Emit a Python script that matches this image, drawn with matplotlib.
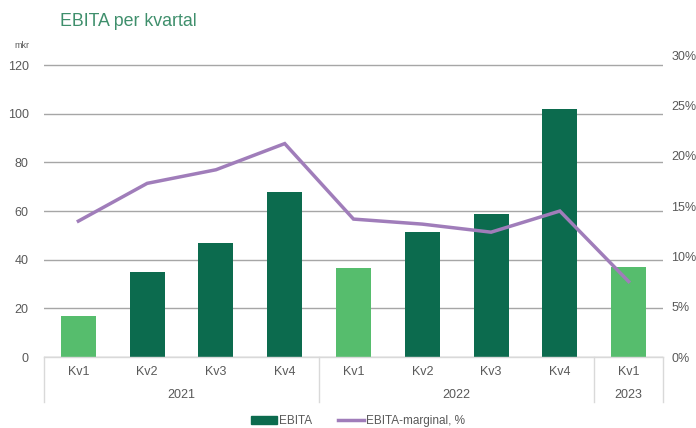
import matplotlib.pyplot as plt
from matplotlib.lines import Line2D
from matplotlib.patches import Patch

plt.rcParams['font.family'] = ['Liberation Sans', 'DejaVu Sans']

# data
quarters = ["Kv1", "Kv2", "Kv3", "Kv4", "Kv1", "Kv2", "Kv3", "Kv4", "Kv1"]
years = ["2021", "2022", "2023"]
year_sizes = [4, 4, 1]
ebita = [17, 35, 47, 68, 36.5, 51.2, 58.8, 101.8, 37]
margin = [13.5, 17.25, 18.6, 21.2, 13.7, 13.2, 12.4, 14.5, 7.5]
bar_colors = ["#56bd6d", "#0c6b4e", "#0c6b4e", "#0c6b4e", "#56bd6d",
              "#0c6b4e", "#0c6b4e", "#0c6b4e", "#56bd6d"]

dark = "#0c6b4e"
purple = "#a07dba"
txt = "#595959"

fig = plt.figure(figsize=(6.96, 4.28), dpi=100)
ax = fig.add_axes([44 / 696, 1 - 357 / 428, (663 - 44) / 696, 302 / 428])
ax2 = ax.twinx()

x = list(range(len(quarters)))
ax.bar(x, ebita, width=0.51, color=bar_colors, zorder=3)
ax.set_xlim(-0.5, len(quarters) - 0.5)
ax.set_ylim(0, 120 * 302 / 292)
ax.set_yticks([0, 20, 40, 60, 80, 100, 120])
ax.grid(axis='y', color='#a6a6a6', linewidth=1, zorder=0)
ax.set_axisbelow(True)
ax.set_xticks([])
ax.tick_params(axis='y', length=0, pad=11, labelsize=9, labelcolor=txt)

ax2.plot(x, margin, color=purple, linewidth=2.5, solid_joinstyle='miter', zorder=4)
ax2.set_ylim(0, 30)
ax2.set_yticks([0, 5, 10, 15, 20, 25, 30])
ax2.set_yticklabels([f"{v}%" for v in range(0, 31, 5)])
ax2.tick_params(axis='y', length=0, pad=6, labelsize=9, labelcolor=txt)

for a in (ax, ax2):
    for s in a.spines.values():
        s.set_visible(False)

# category axis with year groups
tr = ax.get_xaxis_transform()
axc = '#d9d9d9'
ax.plot([-0.5, len(quarters) - 0.5], [0, 0], transform=tr, color=axc,
        linewidth=1, clip_on=False, zorder=5)
for i, q in enumerate(quarters):
    ax.text(i, -0.05, q, transform=tr, ha='center', va='center',
            fontsize=9, color=txt)
start = 0
bounds = [-0.5]
for y, n in zip(years, year_sizes):
    ax.text(start + (n - 1) / 2, -0.126, y, transform=tr, ha='center',
            va='center', fontsize=9, color=txt)
    start += n
    bounds.append(start - 0.5)
for b in bounds:
    ax.plot([b, b], [0, -0.149], transform=tr, color=axc, linewidth=1,
            clip_on=False)

fig.text(60 / 696, 1 - 22 / 428, "EBITA per kvartal", fontsize=12.8,
         color='#3f8f6c', ha='left', va='center')
fig.text(22 / 696, 1 - 46 / 428, "mkr", fontsize=6.5, color=txt,
         ha='center', va='center')

handles = [Patch(color=dark), Line2D([0], [0], color=purple, linewidth=2.5)]
fig.legend(handles, ["EBITA", "EBITA-marginal, %"], loc='center',
           bbox_to_anchor=(358 / 696, 1 - 421 / 428), ncol=2, frameon=False,
           fontsize=8.5, labelcolor=txt, handlelength=2.2, handletextpad=0.2,
           columnspacing=2.2)

fig.savefig("out.png", dpi=100)
